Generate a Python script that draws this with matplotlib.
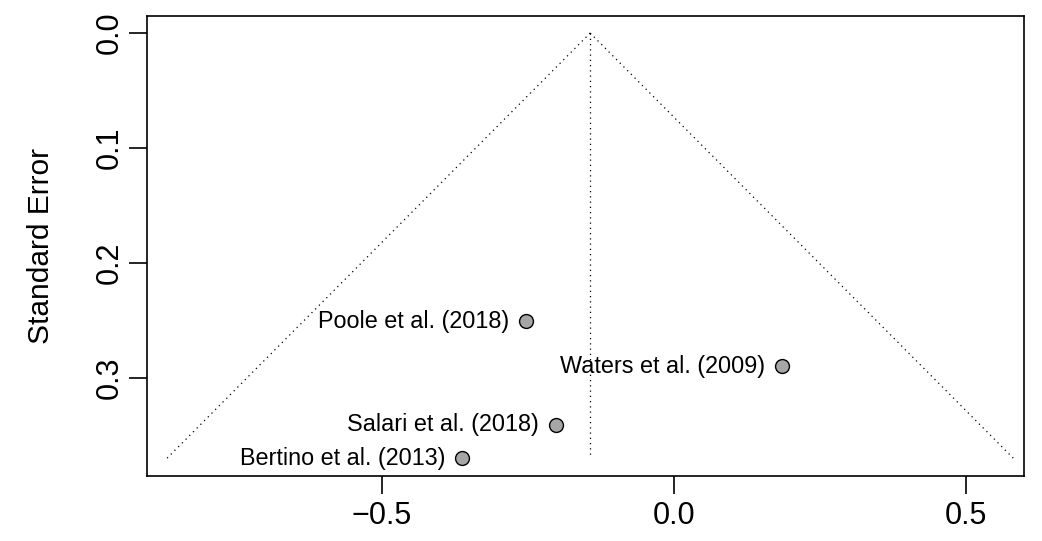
import numpy as np
import matplotlib
matplotlib.use("Agg")
import matplotlib.pyplot as plt

plt.rcParams["font.family"] = ["Liberation Sans", "DejaVu Sans"]

studies = ["Poole et al. (2018)", "Waters et al. (2009)", "Salari et al. (2018)", "Bertino et al. (2013)"]
yi = [-0.253, 0.185, -0.202, -0.363]
sei = [0.2505, 0.2895, 0.3405, 0.3695]
est = -0.1435        # pooled estimate
xticks = [-0.5, 0.0, 0.5]
yticks = [0.0, 0.1, 0.2, 0.3]

fig = plt.figure(figsize=(10.42, 5.41), dpi=100)
ax = fig.add_axes([0.1411, 0.1201, 0.8416, 0.8503])

se_max = max(sei)
se_grid = np.array([0.0, se_max])
dot = (0, (1, 3.2))
ax.plot(est - 1.96 * se_grid, se_grid, color="black", lw=0.9, ls=dot)
ax.plot(est + 1.96 * se_grid, se_grid, color="black", lw=0.9, ls=dot)
ax.plot([est, est], [0, se_max], color="black", lw=0.9, ls=dot)

ax.scatter(yi, sei, s=100, c="#a6a6a6", edgecolors="black", linewidths=1.0, zorder=3)
for name, x, y in zip(studies, yi, sei):
    ax.annotate(name, (x, y), xytext=(-12, 0), textcoords="offset points",
                ha="right", va="center", fontsize=16.8)

ax.set_xlim(-0.902, 0.599)
ax.set_ylim(0.385, -0.0148)
ax.set_xticks(xticks)
ax.set_xticklabels([f"{v:.1f}".replace("-", "\u2212") for v in xticks])
ax.set_yticks(yticks)
ax.set_yticklabels([f"{v:.1f}" for v in yticks], rotation=90, va="center")
ax.tick_params(axis="both", length=13, width=1.2, labelsize=22, direction="out")
ax.tick_params(axis="x", pad=5)
ax.tick_params(axis="y", pad=3)
for sp in ax.spines.values():
    sp.set_linewidth(1.2)
ax.set_ylabel("Standard Error", fontsize=21.5, labelpad=29)

fig.savefig("out.png", dpi=100)
